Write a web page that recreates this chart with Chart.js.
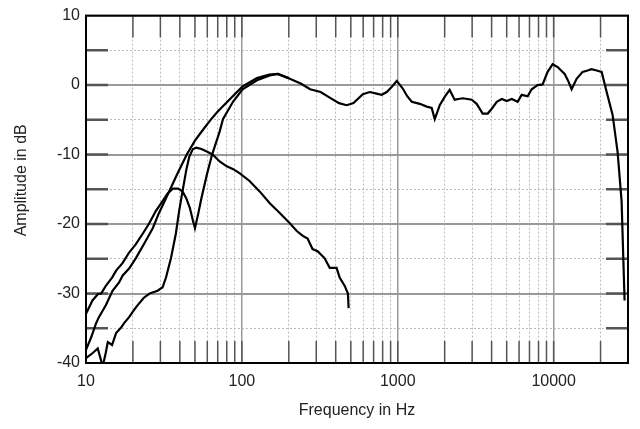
<!DOCTYPE html>
<html>
<head>
<meta charset="utf-8">
<script src="https://cdn.jsdelivr.net/npm/chart.js@4"></script>
<style>
  body { margin: 0; background: #fff; }
  #wrap { width: 640px; height: 429px; position: relative; }
</style>
</head>
<body>
<div id="wrap"><canvas id="chart"></canvas></div>
<script>
// full system response (smooth low end, then the whole band)
var mainFreq = [10, 10.8, 11.6, 12.1, 13.4, 14.8, 16.3, 17.2, 18.9, 20.9, 23.5, 26.8, 29.4, 32.6, 38.3, 44.3, 50, 56, 63, 70, 84, 101, 125, 150, 170, 203, 240, 274, 320, 366, 420, 470, 520, 597, 662, 720, 789, 850, 920, 986, 1077, 1150, 1230, 1384, 1535, 1651, 1727, 1800, 1859, 2000, 2153, 2318, 2450, 2611, 2800, 2981, 3209, 3506, 3777, 4009, 4317, 4648, 5004, 5388, 5880, 6238, 6811, 7230, 7891, 8498, 9153, 9855, 10613, 11770, 12400, 13040, 14040, 15340, 16520, 17500, 18880, 20330, 21890, 23900, 25720, 27290, 28520];
var mainDb = [-38.1, -36.3, -34.3, -33.4, -31.7, -29.6, -28.4, -27.4, -26.4, -24.9, -22.9, -20.6, -18.4, -16.3, -12.9, -10, -8, -6.5, -5, -3.8, -2, -0.2, 1.0, 1.5, 1.6, 0.9, 0.2, -0.6, -1.0, -1.8, -2.6, -2.9, -2.6, -1.3, -1.0, -1.2, -1.4, -1.0, -0.2, 0.6, -0.5, -1.6, -2.4, -2.7, -3.1, -3.3, -4.9, -3.8, -2.9, -1.7, -0.7, -2.1, -2.0, -1.9, -2.0, -2.1, -2.7, -4.1, -4.1, -3.4, -2.4, -2.0, -2.3, -2.0, -2.4, -1.4, -1.6, -0.6, 0, 0.1, 1.9, 3.0, 2.6, 1.6, 0.6, -0.6, 0.9, 1.9, 2.1, 2.3, 2.1, 1.9, -1, -4.3, -9.6, -16.7, -31];

// woofer nearfield with the notch at port tuning
var wooferFreq = [10, 11, 11.9, 12.5, 13.4, 14.7, 15.6, 17.2, 18.9, 20.9, 23.1, 25.3, 28.1, 31, 33.4, 36.1, 39, 41.6, 44, 46.4, 48.5, 50, 52.5, 55, 59.6, 64.4, 72, 75.6, 87.7, 101, 125, 151, 170, 200];
var wooferDb = [-32.9, -31, -30.1, -30, -28.9, -27.7, -26.7, -25.6, -24.1, -22.9, -21.4, -20, -18.1, -16.7, -15.6, -14.9, -14.9, -15.3, -16.3, -17.7, -19.5, -20.6, -18.5, -16.3, -12.9, -10, -6.7, -4.9, -2.4, -0.6, 0.7, 1.4, 1.6, 1.0];

// port nearfield
var portFreq = [10, 11, 11.9, 12.8, 13.4, 13.8, 14.7, 15.6, 16.8, 17.5, 18.9, 20.3, 21.4, 23.5, 25.6, 28.8, 31, 32.6, 35.1, 37.7, 39.6, 41.6, 44, 46, 48.5, 51, 55, 60, 65, 72, 80, 88, 97, 112, 130, 151, 175, 203, 225, 246, 264, 284, 306, 339, 366, 405, 424, 457, 479, 484];
var portDb = [-39.3, -38.6, -37.9, -40.5, -38.5, -37, -37.4, -35.7, -34.9, -34.3, -33.4, -32.4, -31.7, -30.6, -30, -29.6, -29.1, -27.7, -24.9, -21.4, -18.1, -15.3, -12.2, -10.3, -9.2, -9.0, -9.2, -9.6, -10.0, -11, -11.7, -12.1, -12.7, -13.8, -15.3, -17, -18.4, -19.9, -21, -21.7, -22.1, -23.6, -23.9, -24.9, -26.3, -26.3, -27.7, -28.9, -30, -32.1];

var xTicks = [10, 20, 30, 40, 50, 60, 70, 80, 90, 100, 200, 300, 400, 500, 600, 700, 800, 900, 1000, 2000, 3000, 4000, 5000, 6000, 7000, 8000, 9000, 10000, 20000, 30000];
var xLabels = ['10', '100', '1000', '10000'];
var yTicks = [-40, -35, -30, -25, -20, -15, -10, -5, 0, 5, 10];
var yLabels = ['-40', '-30', '-20', '-10', '0', '10'];

function pts(f, d) {
    var out = [];
    for (var i = 0; i < f.length; i++) out.push({x: f[i], y: d[i]});
    return out;
}
function isDecade(v) {
    return xLabels.indexOf(String(v)) >= 0;
}

var font = "'Liberation Sans', Arial, Helvetica, sans-serif";

var framePlugin = {
    id: 'frame',
    beforeDatasetsDraw: function(chart) {
        var ctx = chart.ctx, a = chart.chartArea;
        var xs = chart.scales.x, ys = chart.scales.y;
        ctx.save();
        ctx.strokeStyle = '#555';
        // short inner ticks on left and right
        ctx.lineWidth = 2.5;
        yTicks.forEach(function(v) {
            if (v === yTicks[0] || v === yTicks[yTicks.length - 1]) return;
            var y = ys.getPixelForValue(v);
            ctx.beginPath();
            ctx.moveTo(a.left, y); ctx.lineTo(a.left + 22, y);
            ctx.moveTo(a.right - 22, y); ctx.lineTo(a.right, y);
            ctx.stroke();
        });
        // short inner ticks on top and bottom
        ctx.lineWidth = 1.5;
        xTicks.forEach(function(v) {
            if (v === xTicks[0] || v === xTicks[xTicks.length - 1]) return;
            var x = xs.getPixelForValue(v);
            ctx.beginPath();
            ctx.moveTo(x, a.top); ctx.lineTo(x, a.top + 22);
            ctx.moveTo(x, a.bottom - 22); ctx.lineTo(x, a.bottom);
            ctx.stroke();
        });
        ctx.restore();
    },
    afterDraw: function(chart) {
        var ctx = chart.ctx, a = chart.chartArea;
        ctx.save();
        ctx.strokeStyle = '#000';
        ctx.lineWidth = 2;
        ctx.strokeRect(a.left, a.top, a.right - a.left, a.bottom - a.top);
        // y axis title
        ctx.fillStyle = '#222';
        ctx.font = '16px ' + font;
        ctx.textAlign = 'center';
        ctx.textBaseline = 'middle';
        ctx.translate(22, (a.top + a.bottom) / 2 - 9);
        ctx.rotate(-Math.PI / 2);
        ctx.fillText('Amplitude in dB', 0, 0);
        ctx.restore();
    }
};

var lineStyle = {borderColor: '#000', borderWidth: 2.2, pointRadius: 0, tension: 0, fill: false};

new Chart(document.getElementById('chart'), {
    type: 'line',
    data: {
        datasets: [
            Object.assign({label: 'System', data: pts(mainFreq, mainDb)}, lineStyle),
            Object.assign({label: 'Woofer', data: pts(wooferFreq, wooferDb)}, lineStyle),
            Object.assign({label: 'Port', data: pts(portFreq, portDb)}, lineStyle)
        ]
    },
    options: {
        responsive: true,
        maintainAspectRatio: false,
        devicePixelRatio: 1,
        animation: false,
        layout: {padding: {top: 13, right: 12, left: 0, bottom: 0}},
        plugins: {legend: {display: false}, tooltip: {enabled: false}},
        scales: {
            x: {
                type: 'logarithmic',
                min: 10,
                max: 30000,
                afterBuildTicks: function(scale) {
                    scale.ticks = xTicks.map(function(v) { return {value: v}; });
                },
                afterFit: function(scale) { scale.height = 66; },
                ticks: {
                    autoSkip: false,
                    maxRotation: 0,
                    padding: 9,
                    color: '#222',
                    font: {family: font, size: 16},
                    callback: function(v) { return isDecade(v) ? String(v) : ''; }
                },
                grid: {
                    drawTicks: false,
                    color: function(c) { return c.tick && isDecade(c.tick.value) ? '#999' : '#bbb'; },
                    lineWidth: function(c) { return c.tick && isDecade(c.tick.value) ? 1.5 : 1; }
                },
                border: {
                    display: false,
                    dash: function(c) { return c.tick && !isDecade(c.tick.value) ? [2, 2] : []; }
                },
                title: {
                    display: true,
                    text: 'Frequency in Hz',
                    color: '#222',
                    font: {family: font, size: 16},
                    padding: {top: 0, bottom: 9}
                }
            },
            y: {
                min: -40,
                max: 10,
                afterBuildTicks: function(scale) {
                    scale.ticks = yTicks.map(function(v) { return {value: v}; });
                },
                afterFit: function(scale) { scale.width = 86; },
                ticks: {
                    padding: 6,
                    color: '#222',
                    font: {family: font, size: 16},
                    callback: function(v) { return yLabels.indexOf(String(v)) >= 0 ? String(v) : ''; }
                },
                grid: {
                    drawTicks: false,
                    color: function(c) { return c.tick && c.tick.value % 10 === 0 ? '#999' : '#bbb'; },
                    lineWidth: function(c) { return c.tick && c.tick.value % 10 === 0 ? 2 : 1; }
                },
                border: {
                    display: false,
                    dash: function(c) { return c.tick && c.tick.value % 10 !== 0 ? [2, 2] : []; }
                }
            }
        }
    },
    plugins: [framePlugin]
});
</script>
</body>
</html>
